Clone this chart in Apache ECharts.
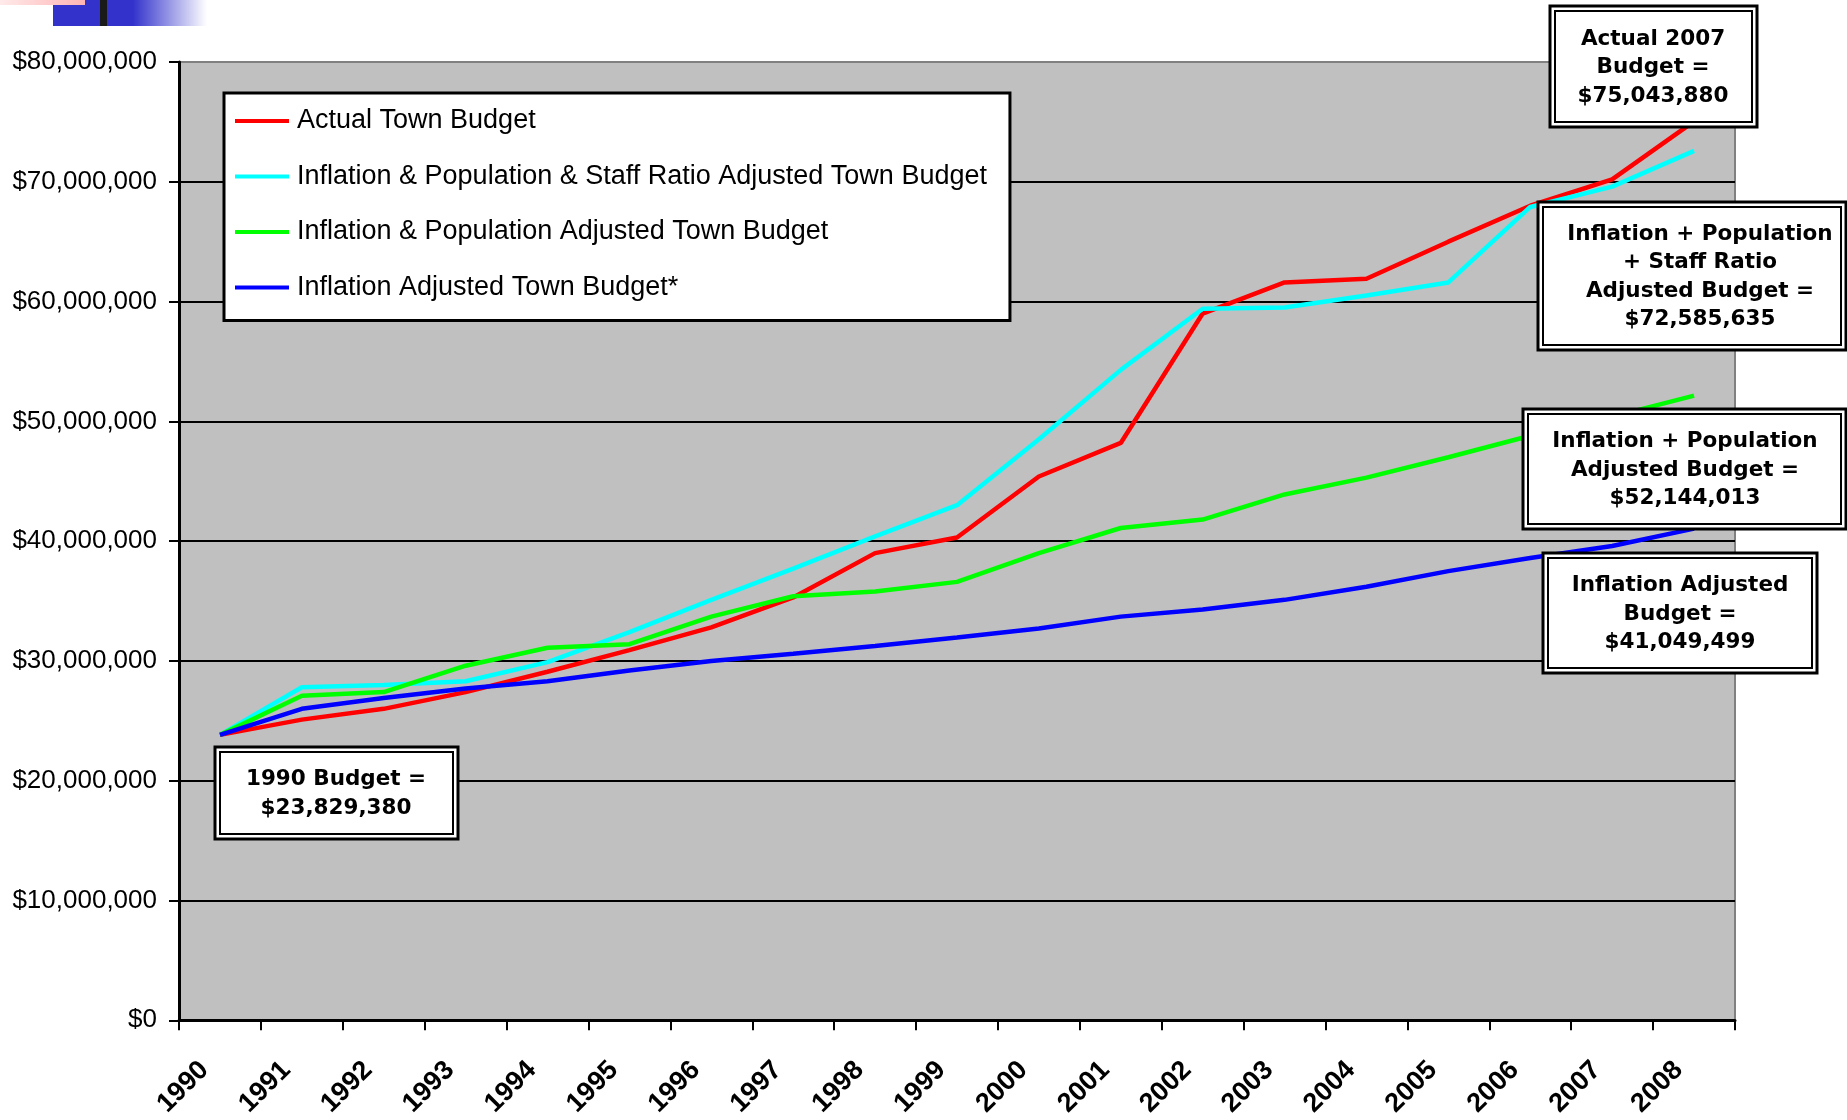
<!DOCTYPE html>
<html>
<head>
<meta charset="utf-8">
<script src="https://cdn.jsdelivr.net/npm/echarts@6/dist/echarts.min.js"></script>
<style>
html,body{margin:0;padding:0;background:#ffffff;}
#chart{width:1847px;height:1120px;}
</style>
</head>
<body>
<div id="chart"></div>
<script>
// ---- data ----
const years = ['1990','1991','1992','1993','1994','1995','1996','1997','1998','1999','2000','2001','2002','2003','2004','2005','2006','2007','2008'];
const seriesNames = [
  'Actual Town Budget',
  'Inflation & Population & Staff Ratio Adjusted Town Budget',
  'Inflation & Population Adjusted Town Budget',
  'Inflation Adjusted Town Budget*'
];
const actualBudget = [23829380,25100000,26000000,27400000,29100000,30900000,32800000,35300000,39000000,40300000,45400000,48200000,59000000,61600000,61900000,65000000,68000000,70200000,75043880];
const inflPopStaffBudget = [23829380,27800000,28000000,28300000,29900000,32400000,35100000,37700000,40400000,43000000,48500000,54300000,59400000,59500000,60500000,61600000,67900000,69600000,72585635];
const inflPopBudget = [23829380,27100000,27400000,29600000,31100000,31400000,33700000,35400000,35800000,36600000,39000000,41100000,41800000,43900000,45300000,47000000,48800000,50400000,52144013];
const inflBudget = [23829380,26000000,26900000,27700000,28300000,29200000,30000000,30600000,31250000,31950000,32700000,33700000,34300000,35100000,36200000,37500000,38600000,39600000,41049499];
const seriesColors = ['#ff0000','#00ffff','#00ff00','#0000ff'];
const yMin = 0, yMax = 80000000, yStep = 10000000;

const annotations = [
  ['Actual 2007', 'Budget =', '$75,043,880'],
  ['Inflation + Population', '+ Staff Ratio', 'Adjusted Budget =', '$72,585,635'],
  ['Inflation + Population', 'Adjusted Budget =', '$52,144,013'],
  ['Inflation Adjusted', 'Budget =', '$41,049,499'],
  ['1990 Budget =', '$23,829,380']
];
// box geometry: [left, top, right, bottom, textCenterX]
const boxGeom = [
  [1550, 6, 1757, 127, 1653],
  [1538, 202, 1846, 350, 1700],
  [1523, 409, 1846, 529, 1685],
  [1543, 553, 1817, 673, 1680],
  [215, 747, 458, 839, 336]
];

function boxGraphic(lines, g) {
  const [l, t, r, b, cx] = g;
  return [
    {type:'rect', z:100, shape:{x:l, y:t, width:r-l, height:b-t}, style:{fill:'#ffffff', stroke:'#000000', lineWidth:3}},
    {type:'rect', z:101, shape:{x:l+5, y:t+5, width:r-l-10, height:b-t-10}, style:{fill:'none', stroke:'#000000', lineWidth:2}},
    {type:'text', z:102, style:{
      text: lines.join('\n'), x: cx, y: (t+b)/2 + 1,
      align:'center', verticalAlign:'middle',
      fontFamily:'DejaVu Sans', fontWeight:'bold', fontSize:21.5, lineHeight:28.5, fill:'#000000'
    }}
  ];
}

let graphics = [
  {type:'rect', z:50, shape:{x:53, y:0, width:154, height:26}, style:{fill:new echarts.graphic.LinearGradient(0,0,1,0,[{offset:0,color:'#3333cc'},{offset:0.52,color:'#3333cc'},{offset:1,color:'#ffffff'}])}},
  {type:'rect', z:51, shape:{x:100, y:0, width:7, height:26}, style:{fill:'#1a1a1a'}},
  {type:'rect', z:52, shape:{x:0, y:0, width:85, height:5}, style:{fill:new echarts.graphic.LinearGradient(0,0,1,0,[{offset:0,color:'#ffeaea'},{offset:1,color:'#ffb4b4'}])}}
];
annotations.forEach((a, i) => { graphics = graphics.concat(boxGraphic(a, boxGeom[i])); });

const splitColors = [];
for (let v = yMin; v <= yMax; v += yStep) splitColors.push(v === yMax ? '#808080' : '#000000');

const seriesData = [actualBudget, inflPopStaffBudget, inflPopBudget, inflBudget];

const chart = echarts.init(document.getElementById('chart'), null, {renderer:'canvas'});
chart.setOption({
  animation:false,
  backgroundColor:'#ffffff',
  grid:{left:179, top:62, width:1556, height:961, show:true, backgroundColor:'#c0c0c0', borderColor:'#808080', borderWidth:2, containLabel:false},
  legend:{
    orient:'vertical', left:224, top:93,
    backgroundColor:'#ffffff', borderColor:'#000000', borderWidth:3,
    padding:[13,23,18,11], itemGap:25.5, itemWidth:54, itemHeight:4, icon:'rect',
    textStyle:{fontFamily:'Liberation Sans', fontSize:27, color:'#000000', lineHeight:30, padding:[0,0,0,3]},
    data: seriesNames, z:20
  },
  xAxis:{
    type:'category', data: years, boundaryGap:true,
    axisLine:{show:true, lineStyle:{color:'#000000', width:3}},
    axisTick:{show:true, length:10, alignWithLabel:false, lineStyle:{color:'#000000', width:2}},
    axisLabel:{rotate:45, interval:0, fontFamily:'Liberation Sans', fontWeight:'bold', fontSize:27, color:'#000000', margin:30, padding:[0,22,0,0]},
    splitLine:{show:false}
  },
  yAxis:{
    type:'value', min:yMin, max:yMax, interval:yStep,
    axisLine:{show:true, lineStyle:{color:'#000000', width:3}},
    axisTick:{show:true, length:10, lineStyle:{color:'#000000', width:2}},
    axisLabel:{fontFamily:'Liberation Sans', fontSize:26, color:'#000000', margin:22,
      formatter: v => '$' + Number(v).toLocaleString('en-US')},
    splitLine:{show:true, lineStyle:{color:splitColors, width:2}}
  },
  series: seriesNames.map((n, i) => ({
    name:n, type:'line', data: seriesData[i], symbol:'none', smooth:false,
    itemStyle:{color:seriesColors[i]},
    lineStyle:{color:seriesColors[i], width:4.5}
  })),
  graphic: graphics
});
</script>
</body>
</html>
